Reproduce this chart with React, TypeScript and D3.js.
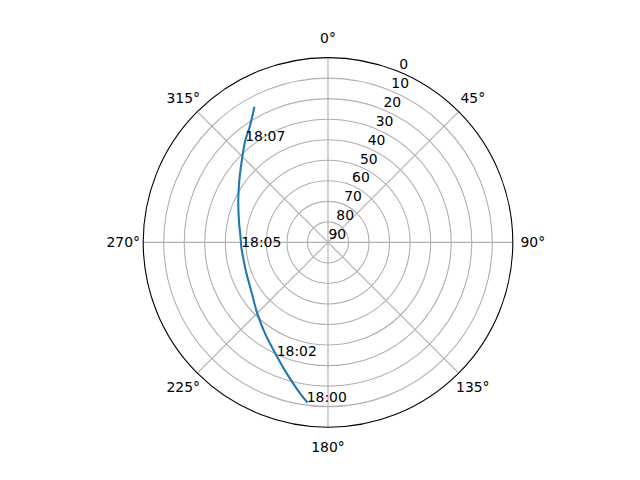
import { useEffect, useRef } from "react";
import * as d3 from "d3";

// satellite pass, azimuth / elevation
const azimuth = [187.6, 191.6, 197.5, 204.3, 214.7, 224.9, 238.3, 251.5, 263.8, 267.2, 272.7, 283.1, 294.4, 304.4, 313.1, 320.9, 325.4, 331.3];
const elevation = [11.7, 16.6, 23.1, 29.3, 36.1, 41.2, 45.9, 47.7, 47.9, 47.7, 47.4, 45.5, 42.0, 37.6, 32.4, 26.1, 22.5, 15.2];

// time annotations along the track
const timeLabels = ["18:00", "18:02", "18:05", "18:07"];
const timeAz = [187.6, 204.3, 267.2, 320.9];
const timeEl = [11.7, 29.3, 47.7, 26.1];

const thetaTicks = [0, 45, 90, 135, 180, 225, 270, 315];
const rTicks = [0, 10, 20, 30, 40, 50, 60, 70, 80, 90];

export default function App() {
  const ref = useRef<SVGSVGElement>(null);

  useEffect(() => {
    document.body.style.margin = "0";
    const WIDTH = 640;
    const HEIGHT = 480;
    const CX = 328;
    const CY = 242.4;
    const R = 184.8;
    const FONT = "DejaVu Sans, sans-serif";

    const svg = d3.select(ref.current);
    svg.selectAll("*").remove();
    svg.attr("width", WIDTH).attr("height", HEIGHT);

    svg.append("rect").attr("width", WIDTH).attr("height", HEIGHT).attr("fill", "white");

    const g = svg.append("g").attr("transform", `translate(${CX}, ${CY})`);

    const rScale = d3.scaleLinear().domain([90, 0]).range([0, R]);
    const rad = (deg: number) => (deg * Math.PI) / 180;

    // grid circles
    g.selectAll("circle.grid")
      .data(rTicks.filter(t => t > 0 && t < 90))
      .join("circle")
      .attr("class", "grid")
      .attr("r", d => rScale(d))
      .attr("fill", "none")
      .attr("stroke", "#b0b0b0")
      .attr("stroke-width", 1.1);

    // spokes
    g.selectAll("line.spoke")
      .data(thetaTicks)
      .join("line")
      .attr("class", "spoke")
      .attr("x1", 0)
      .attr("y1", 0)
      .attr("x2", d => d3.pointRadial(rad(d), R)[0])
      .attr("y2", d => d3.pointRadial(rad(d), R)[1])
      .attr("stroke", "#b0b0b0")
      .attr("stroke-width", 1.1);

    // outer spine
    g.append("circle")
      .attr("r", R)
      .attr("fill", "none")
      .attr("stroke", "black")
      .attr("stroke-width", 1.1);

    // track
    const track = azimuth.map((a, i) => [rad(a), rScale(elevation[i])] as [number, number]);
    const line = d3.lineRadial<[number, number]>()
      .angle(d => d[0])
      .radius(d => d[1])
      .curve(d3.curveCatmullRom);
    g.append("path")
      .attr("d", line(track))
      .attr("fill", "none")
      .attr("stroke", "#1f77b4")
      .attr("stroke-width", 2.08)
      .attr("stroke-linecap", "square");

    // theta labels
    g.selectAll("text.theta")
      .data(thetaTicks)
      .join("text")
      .attr("class", "theta")
      .attr("x", d => d3.pointRadial(rad(d), R + 20)[0])
      .attr("y", d => d3.pointRadial(rad(d), R + 20)[1])
      .attr("text-anchor", "middle")
      .attr("dominant-baseline", "central")
      .attr("font-family", FONT)
      .attr("font-size", 13.9)
      .text(d => `${d}°`);

    // radial labels at 22.5 deg
    g.selectAll("text.rlab")
      .data(rTicks)
      .join("text")
      .attr("class", "rlab")
      .attr("x", d => d3.pointRadial(rad(22.5), rScale(d))[0] + 0.5)
      .attr("y", d => d3.pointRadial(rad(22.5), rScale(d))[1] - 3)
      .attr("font-family", FONT)
      .attr("font-size", 13.9)
      .text(d => String(d));

    // time annotations
    g.selectAll("text.time")
      .data(timeLabels)
      .join("text")
      .attr("class", "time")
      .attr("x", (_, i) => d3.pointRadial(rad(timeAz[i]), rScale(timeEl[i]))[0])
      .attr("y", (_, i) => d3.pointRadial(rad(timeAz[i]), rScale(timeEl[i]))[1])
      .attr("font-family", FONT)
      .attr("font-size", 13.9)
      .text(d => d);
  }, []);

  return (
    <div style={{ position: "absolute", left: 0, top: 0 }}>
      <svg ref={ref} style={{ display: "block" }} />
    </div>
  );
}
